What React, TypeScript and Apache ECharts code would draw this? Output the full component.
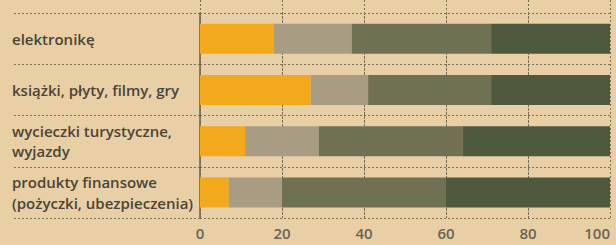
import React, { useEffect, useRef } from "react";
import * as echarts from "echarts";

const categories = [
  "elektronikę",
  "książki, płyty, filmy, gry",
  "wycieczki turystyczne,\nwyjazdy",
  "produkty finansowe\n(pożyczki, ubezpieczenia)",
];
const seriesNames = ["część 1", "część 2", "część 3", "część 4"];
const values1 = [18, 27, 11, 7];
const values2 = [19, 14, 18, 13];
const values3 = [34, 30, 35, 40];
const values4 = [29, 29, 36, 40];
const xTicks = [0, 20, 40, 60, 80, 100];

const colors = ["#f2a91c", "#a89c82", "#6f7152", "#4f593d"];

export default function App() {
  const ref = useRef<HTMLDivElement>(null);
  useEffect(() => {
    if (!ref.current) return;
    const chart = echarts.init(ref.current, undefined, { renderer: "svg" });
    const all = [values1, values2, values3, values4];
    const dash = { color: "#7d6f52", type: [2, 2], width: 1 };
    chart.setOption({
      animation: false,
      backgroundColor: "#e9cfa6",
      grid: {
        left: 200,
        right: 6,
        top: 13,
        bottom: 27,
        containLabel: false,
        outerBoundsMode: "none",
      },
      xAxis: {
        type: "value",
        min: xTicks[0],
        max: xTicks[xTicks.length - 1],
        interval: 20,
        axisLine: { show: true, lineStyle: { color: "#7d6f52", opacity: 0 } },
        axisTick: {
          show: true,
          inside: true,
          length: 218,
          lineStyle: dash,
        },
        splitLine: { show: true, showMaxLine: false, lineStyle: dash },
        axisLabel: {
          margin: 7,
          color: "#6a6453",
          fontSize: 15,
          fontFamily: "Open Sans",
          fontWeight: 600,
          alignMaxLabel: "right",
        },
      },
      yAxis: {
        type: "category",
        data: categories,
        inverse: true,
        axisLine: { show: true, lineStyle: { color: "#6b604a", width: 1.5 } },
        axisTick: {
          show: true,
          length: 188,
          lineStyle: dash,
        },
        splitLine: { show: true, lineStyle: dash },
        axisLabel: {
          align: "left",
          margin: 188,
          color: "#4a4536",
          fontSize: 15,
          lineHeight: 20.5,
          fontFamily: "Open Sans",
          fontWeight: 600,
        },
      },
      series: all.map((vals, i) => ({
        type: "bar",
        name: seriesNames[i],
        stack: "total",
        data: vals,
        barWidth: 30,
        itemStyle: { color: colors[i] },
      })),
    });
    return () => chart.dispose();
  }, []);
  return (
    <div
      ref={ref}
      style={{ position: "fixed", left: 0, top: 0, width: 616, height: 245 }}
    />
  );
}
